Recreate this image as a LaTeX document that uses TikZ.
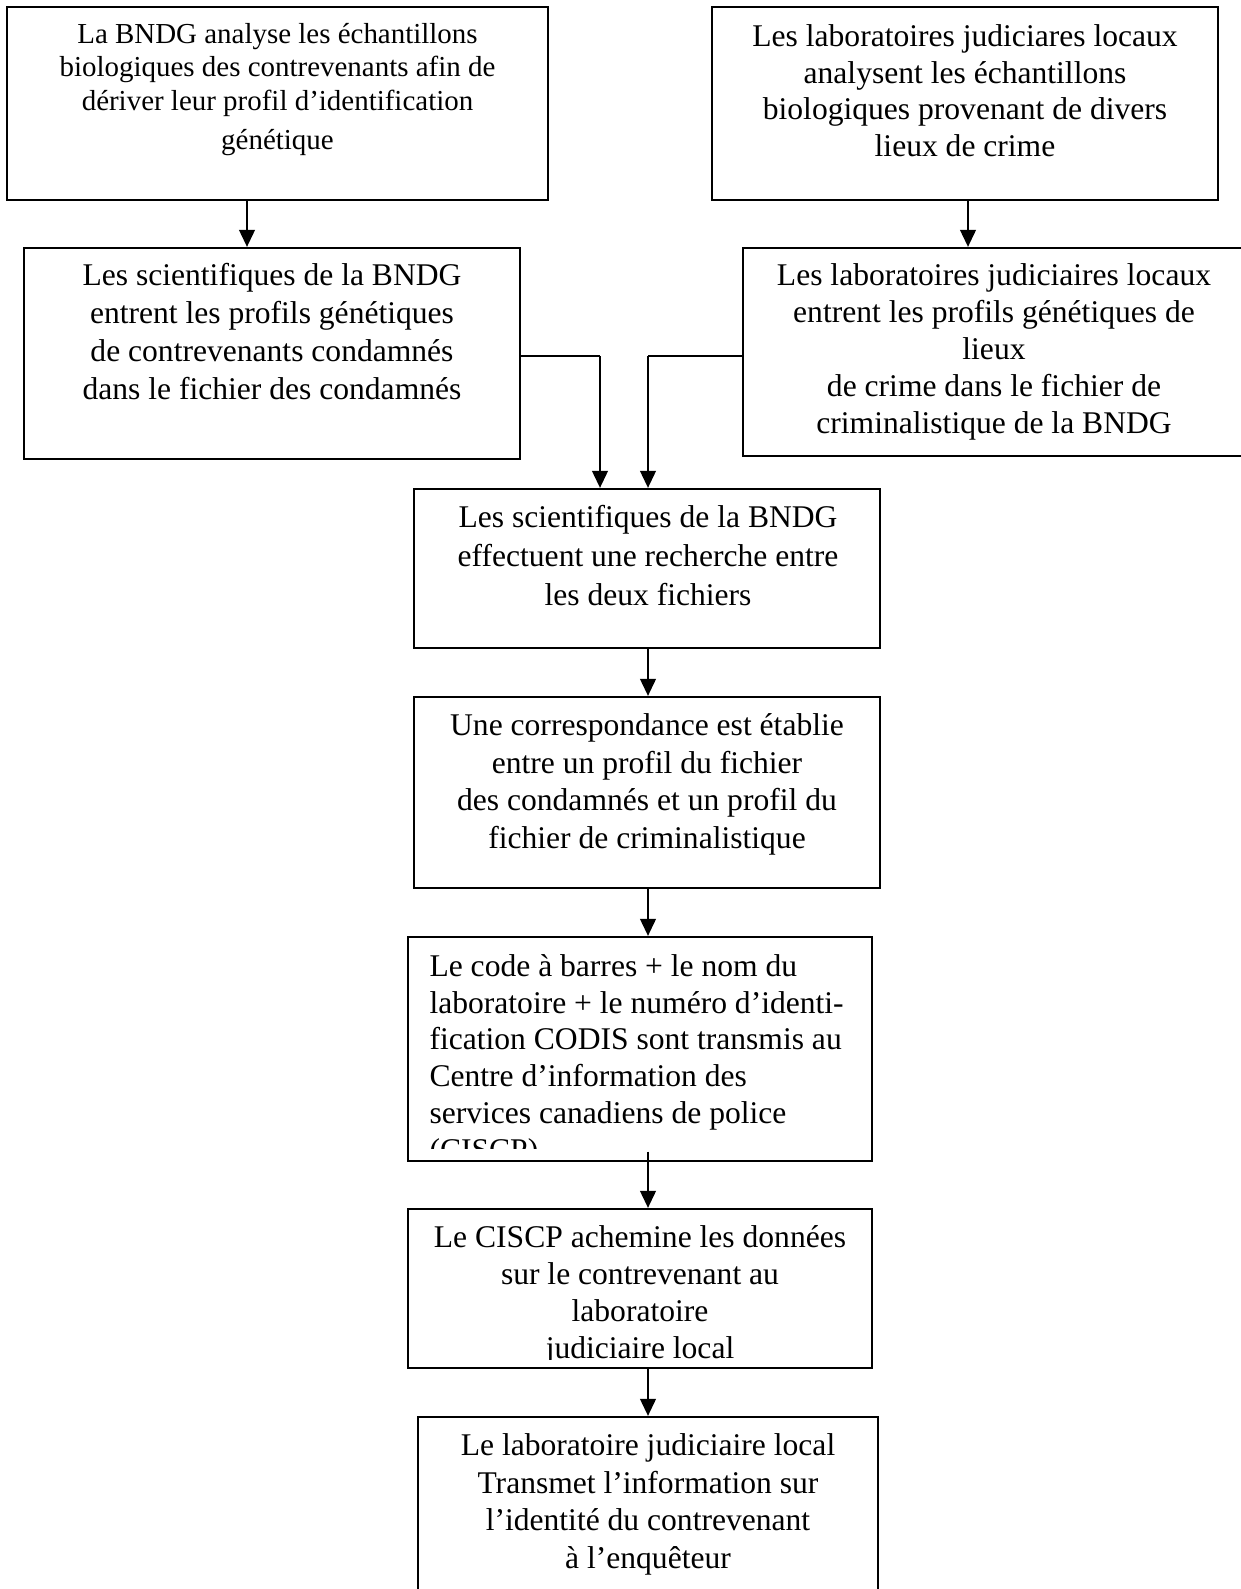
\documentclass[tikz,border=0pt]{standalone}
\usepackage{fontspec}
\setmainfont{Liberation Serif}
\usetikzlibrary{arrows.meta,fit}
\begin{document}
\begin{tikzpicture}[x=0.38pt,y=-0.38pt,
  box/.style={draw, line width=0.85pt, inner sep=0pt, rectangle},
  txt/.style={anchor=north, inner sep=0pt, align=center},
  link/.style={line width=0.75pt},
  arr/.style={line width=0.75pt, -{Triangle[width=6pt,length=6.5pt]}}]
\useasboundingbox (0,0) rectangle (1240,1589);

% boxes
\node[box, fit={(7,7) (548,200)}] (b1) {};
\node[box, fit={(24,248) (520,459)}] (b2) {};
\node[box, fit={(712,7) (1218,200)}] (b3) {};
\node[box, fit={(743,248) (1245,456)}] (b4) {};
\node[box, fit={(414,489) (880,648)}] (b5) {};
\node[box, fit={(414,697) (880,888)}] (b6) {};
\node[box, fit={(408,937) (872,1161)}] (b7) {};
\node[box, fit={(408,1209) (872,1368)}] (b8) {};
\node[box, fit={(418,1417) (878,1610)}] (b9) {};

% texts
\node[txt, font=\fontsize{11}{12.73}\selectfont] (t1) at (277.5,16.5)
  {\rule{0pt}{10pt}La BNDG analyse les échantillons\\biologiques des contrevenants afin de\\dériver leur profil d’identification\\[2pt]génétique};
\node[txt, font=\fontsize{12}{14.44}\selectfont] (t2) at (272,258.5)
  {\rule{0pt}{10pt}Les scientifiques de la BNDG\\entrent les profils génétiques\\de contrevenants condamnés\\dans le fichier des condamnés};
\node[txt, font=\fontsize{12}{13.87}\selectfont] (t3) at (965,20)
  {\rule{0pt}{10pt}Les laboratoires judiciares locaux\\analysent les échantillons\\biologiques provenant de divers\\lieux de crime};
\node[txt, font=\fontsize{12}{14.06}\selectfont] (t4) at (994,258.2)
  {\rule{0pt}{10pt}Les laboratoires judiciaires locaux\\entrent les profils génétiques de\\lieux\\de crime dans le fichier de\\criminalistique de la BNDG};
\node[txt, font=\fontsize{12}{14.9}\selectfont] (t5) at (648,500.7)
  {\rule{0pt}{10pt}Les scientifiques de la BNDG\\effectuent une recherche entre\\les deux fichiers};
\node[txt, font=\fontsize{12}{14.25}\selectfont] (t6) at (647,709)
  {\rule{0pt}{10pt}Une correspondance est établie\\entre un profil du fichier\\des condamnés et un profil du\\fichier de criminalistique};
\begin{scope}
  \clip (400,930) rectangle (880,1148);
  \node[txt, anchor=north west, align=left, font=\fontsize{12}{13.95}\selectfont] (t7) at (429,949.7)
    {\rule{0pt}{10pt}Le code à barres + le nom du\\laboratoire + le numéro d’identi-\\fication CODIS sont transmis au\\Centre d’information des\\services canadiens de police\\(CISCP)};
\end{scope}
\begin{scope}
  \clip (400,1200) rectangle (880,1359);
  \node[txt, font=\fontsize{12}{14.06}\selectfont] (t8) at (640,1221)
    {\rule{0pt}{10pt}Le CISCP achemine les données\\sur le contrevenant au\\laboratoire\\judiciaire local};
\end{scope}
\node[txt, font=\fontsize{12}{14.25}\selectfont] (t9) at (648,1428.7)
  {\rule{0pt}{10pt}Le laboratoire judiciaire local\\Transmet l’information sur\\l’identité du contrevenant\\à l’enquêteur};

% connectors
\coordinate (c1) at (247,0);
\coordinate (c2) at (968,0);
\coordinate (c3) at (648,0);
\coordinate (j1) at (600,356);
\coordinate (j2) at (648,356);
\draw[arr] (b1.south -| c1) -- (b2.north -| c1);
\draw[arr] (b3.south -| c2) -- (b4.north -| c2);
\draw[link] (b2.east |- j1) -- (j1);
\draw[arr] (j1) -- (j1 |- b5.north);
\draw[link] (b4.west |- j2) -- (j2);
\draw[arr] (j2) -- (j2 |- b5.north);
\draw[arr] (b5.south -| c3) -- (b6.north -| c3);
\draw[arr] (b6.south -| c3) -- (b7.north -| c3);
\draw[arr] ([yshift=4pt]b7.south -| c3) -- (b8.north -| c3);
\draw[arr] (b8.south -| c3) -- (b9.north -| c3);
\end{tikzpicture}
\end{document}
